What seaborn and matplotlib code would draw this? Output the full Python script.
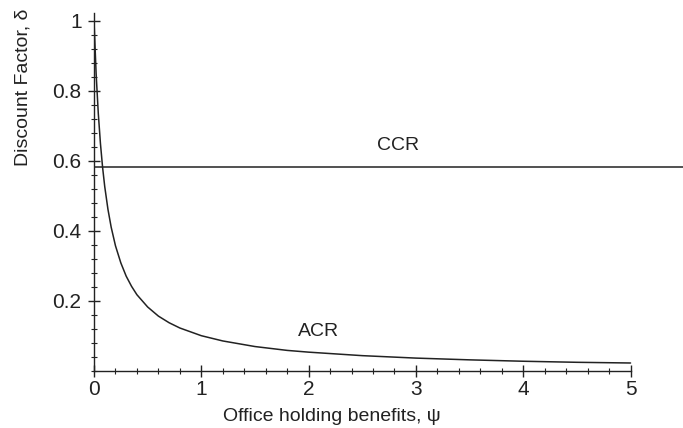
#! /usr/bin/env python3

# libraries
import matplotlib.pyplot as plt
import pandas as pd
import seaborn as sns

sns.set_style("white")
plt.rcParams["font.family"] = ["Liberation Sans", "DejaVu Sans"]

# values
psi = [0, 0.02, 0.04, 0.06, 0.08, 0.1, 0.13, 0.16, 0.2, 0.25, 0.3, 0.35,
       0.4, 0.5, 0.6, 0.7, 0.8, 1.0, 1.2, 1.5, 1.8, 2.0, 2.5, 3.0, 3.5,
       4.0, 4.5, 5.0]
acr = [1.0, 0.847, 0.735, 0.649, 0.581, 0.526, 0.461, 0.410, 0.357, 0.308,
       0.270, 0.241, 0.217, 0.182, 0.156, 0.137, 0.122, 0.100, 0.085, 0.069,
       0.058, 0.053, 0.043, 0.036, 0.031, 0.027, 0.024, 0.022]
ccr = 0.582
xticks = [0, 1, 2, 3, 4, 5]
yticks = [0.2, 0.4, 0.6, 0.8, 1.0]
ytick_labels = ["0.2", "0.4", "0.6", "0.8", "1"]

df = pd.DataFrame({"psi": psi, "delta": acr})

ink = "#222222"
fig = plt.figure(figsize=(6.83, 4.28), dpi=100)
ax = fig.add_axes([94 / 683, (428 - 370.7) / 428, 589 / 683, 357.4 / 428])

sns.lineplot(data=df, x="psi", y="delta", ax=ax, color=ink, linewidth=1.1)
ax.axhline(ccr, color=ink, linewidth=1.1)

ax.set_xlim(0, 5.489)
ax.set_ylim(0, 1.021)

# axes like the original: only left and bottom, bounded
for side in ["top", "right"]:
    ax.spines[side].set_visible(False)
ax.spines["left"].set_bounds(0, 1.021)
ax.spines["bottom"].set_bounds(0, 5)
for side in ["left", "bottom"]:
    ax.spines[side].set_color(ink)
    ax.spines[side].set_linewidth(1.0)

ax.set_xticks(xticks)
ax.set_xticklabels([str(t) for t in xticks])
ax.set_yticks(yticks)
ax.set_yticklabels(ytick_labels)
# minor ticks only along the drawn part of each axis
ax.set_xticks([i / 5 for i in range(26)], minor=True)
ax.set_yticks([i / 25 for i in range(26)], minor=True)
ax.tick_params(which="both", bottom=True, left=True)
ax.tick_params(which="major", direction="inout", length=8, width=1,
               color=ink, labelcolor=ink, labelsize=15, pad=3)
ax.tick_params(which="minor", direction="inout", length=4, width=0.8,
               color=ink)
ax.tick_params(axis="y", which="major", pad=5)

ax.set_xlabel("Office holding benefits, \u03c8", fontsize=14, color=ink,
              va="center")
ax.xaxis.set_label_coords(0.404, -0.1287)
ax.set_ylabel("Discount Factor, \u03b4", fontsize=14, color=ink, va="center")
ax.yaxis.set_label_coords(-0.1205, 0.794)

ax.text(2.83, 0.642, "CCR", fontsize=14, color=ink, ha="center", va="center")
ax.text(2.09, 0.111, "ACR", fontsize=14, color=ink, ha="center", va="center")

plt.savefig("out.png", dpi=100)
